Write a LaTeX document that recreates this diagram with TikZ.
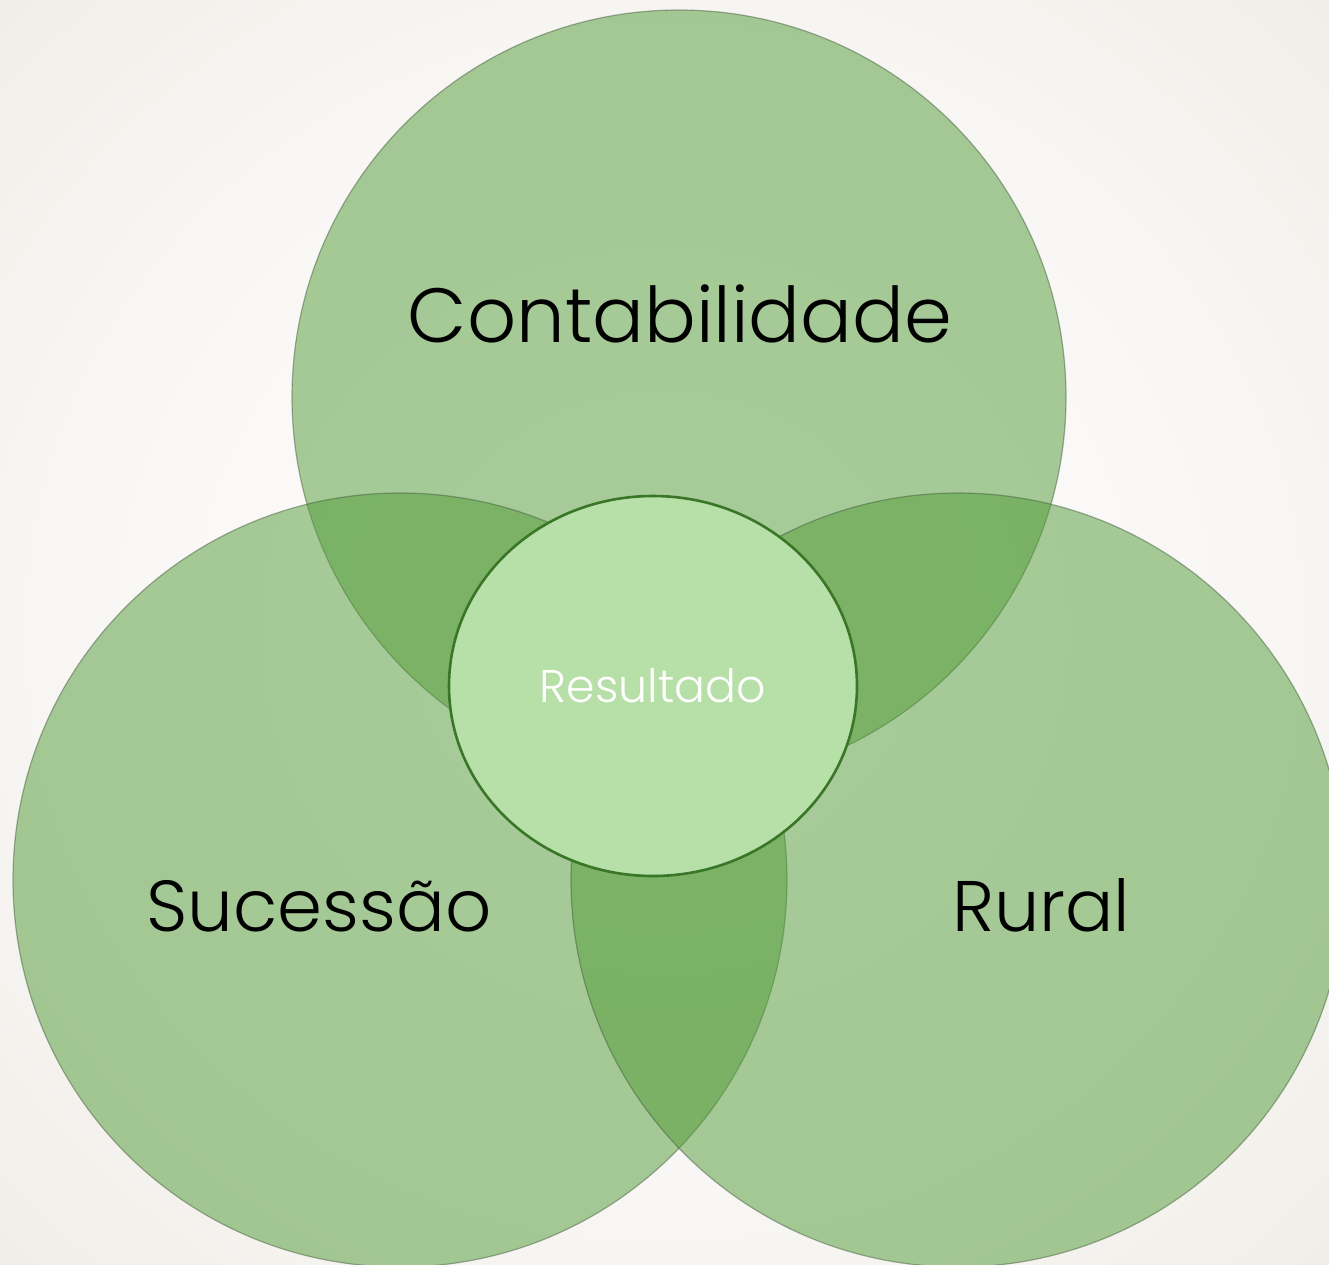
\documentclass[tikz,border=0pt]{standalone}
\usepackage{fontspec}
\setmainfont{Poppins}[UprightFont={* Light}]
\usetikzlibrary{shapes.geometric}
\definecolor{bgedge}{RGB}{228,222,210}
\definecolor{bgmid}{RGB}{242,239,234}
\definecolor{vennfill}{RGB}{81,155,54}
\definecolor{vennline}{RGB}{60,85,55}
\definecolor{centerfill}{RGB}{183,223,168}
\definecolor{centerline}{RGB}{58,118,40}
\pgfdeclareradialshading{bgshade}{\pgfpoint{0bp}{0bp}}{color(0bp)=(white); color(22bp)=(white!50!bgmid); color(46bp)=(bgmid!50!bgedge); color(72bp)=(bgedge)}
\begin{document}
\begin{tikzpicture}[x=1pt,y=-1pt,
  venn/.style={circle, minimum size=774pt, inner sep=0pt, fill=vennfill, fill opacity=0.5, draw=vennline, draw opacity=0.45, line width=1.2pt},
  centre/.style={ellipse, minimum width=408pt, minimum height=380pt, inner sep=0pt, fill=centerfill, draw=centerline, line width=2.6pt, text=white},
  vlabel/.style={anchor=base, text=black, inner sep=0pt}]
\useasboundingbox (0,0) rectangle (1329,1264);
\shade[shading=bgshade] (0,0) rectangle (1329,1264);
\begin{scope}
\clip (0,0) rectangle (1329,1264);
\node[venn] (top) at (679,397) {};
\node[venn] (left) at (400,880) {};
\node[venn] (right) at (958,880) {};
\end{scope}
\node[centre] (res) at (653,686) {\resizebox{226pt}{!}{Resultado}};
\node[vlabel] (lt) at (680,342) {\resizebox{544pt}{!}{Contabilidade}};
\node[vlabel] (ll) at (319,931) {\resizebox{345pt}{!}{Sucessão}};
\node[vlabel] (lr) at (1041,931) {\resizebox{178pt}{!}{Rural}};
\end{tikzpicture}
\end{document}
